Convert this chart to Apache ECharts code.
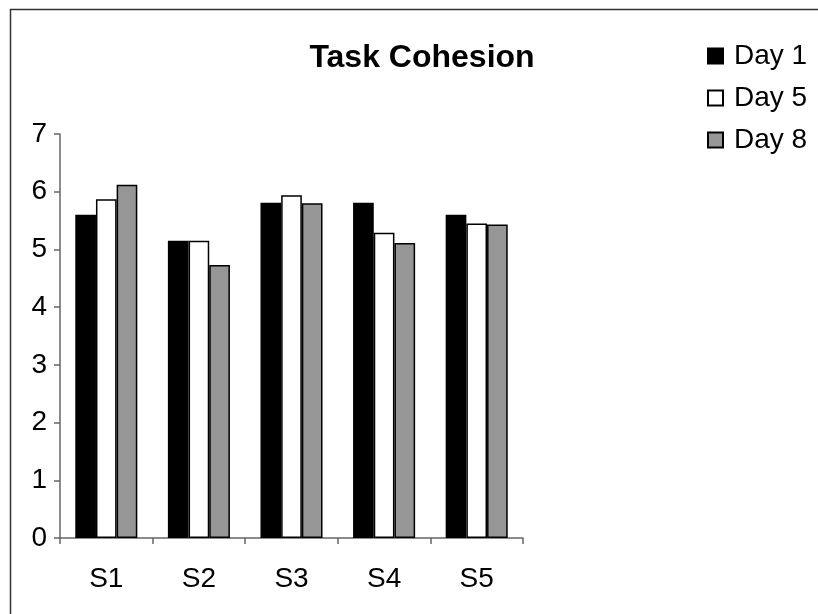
<!DOCTYPE html>
<html>
<head>
<meta charset="utf-8">
<script src="https://cdn.jsdelivr.net/npm/echarts@6/dist/echarts.min.js"></script>
<style>html,body{margin:0;padding:0;background:#fff}#c{width:818px;height:614px}</style>
</head>
<body>
<div id="c"></div>
<script>
const categories = ['S1', 'S2', 'S3', 'S4', 'S5'];
const day1 = [5.60, 5.15, 5.81, 5.81, 5.60];
const day5 = [5.87, 5.15, 5.94, 5.29, 5.45];
const day8 = [6.12, 4.73, 5.80, 5.11, 5.43];
const seriesNames = ['Day 1', 'Day 5', 'Day 8'];
const yTicks = [0, 1, 2, 3, 4, 5, 6, 7];

const font = '"Liberation Sans", Arial, sans-serif';
const chart = echarts.init(document.getElementById('c'), null, {renderer: 'canvas'});
const colors = ['#000000', '#ffffff', '#969696'];
const datas = [day1, day5, day8];

chart.setOption({
  animation: false,
  backgroundColor: '#fff',
  title: {
    text: 'Task Cohesion',
    left: 417, top: 37, textAlign: 'center',
    textStyle: {fontFamily: font, fontSize: 32, fontWeight: 'bold', color: '#000'}
  },
  legend: {
    orient: 'vertical',
    left: 702, top: 30,
    itemWidth: 15, itemHeight: 15, itemGap: 0,
    icon: 'rect',
    data: seriesNames,
    textStyle: {fontFamily: font, fontSize: 28, lineHeight: 42, color: '#000', padding: [0, 0, 0, 6]}
  },
  grid: {left: 60, right: 295, top: 134, bottom: 76, containLabel: false},
  xAxis: {
    type: 'category',
    data: categories,
    axisLine: {lineStyle: {color: '#666', width: 1.5}},
    axisTick: {show: true, length: 6, inside: false, lineStyle: {color: '#666', width: 1.5}},
    axisLabel: {fontFamily: font, fontSize: 28, color: '#000', margin: 27}
  },
  yAxis: {
    type: 'value',
    min: 0, max: 7, interval: 1,
    axisLine: {show: true, lineStyle: {color: '#666', width: 1.5}},
    axisTick: {show: true, length: 6, lineStyle: {color: '#666', width: 1.5}},
    splitLine: {show: false},
    axisLabel: {fontFamily: font, fontSize: 28, color: '#000', margin: 13,
      formatter: v => yTicks.includes(v) ? String(v) : ''}
  },
  series: seriesNames.map((n, i) => ({
    name: n,
    type: 'bar',
    data: datas[i],
    barGap: '0%',
    barCategoryGap: '33%',
    itemStyle: {color: colors[i], borderColor: '#000', borderWidth: 1.5}
  })),
  graphic: [{
    type: 'polyline',
    shape: {points: [[10.5, 620], [10.5, 9.5], [830, 9.5]]},
    style: {stroke: '#333', lineWidth: 1.5, fill: null}
  }]
});
</script>
</body>
</html>
